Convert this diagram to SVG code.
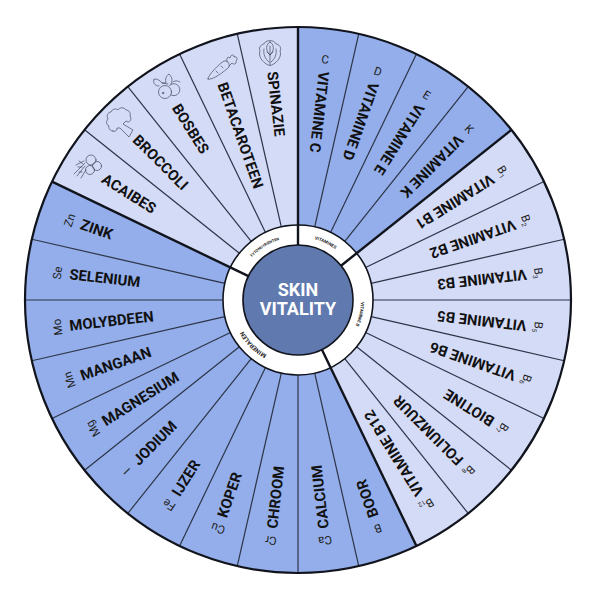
<svg xmlns="http://www.w3.org/2000/svg" width="600" height="600" viewBox="0 0 600 600">
<style>
.b{fill:#93aeea}.l{fill:#d4dbf7}
.t{font-family:"Roboto","Liberation Sans",sans-serif;font-weight:700;font-size:14.8px;fill:#111}
.y{font-family:"Roboto","Liberation Sans",sans-serif;font-weight:400;font-size:11.5px;fill:#222;text-anchor:middle}
.u{font-size:6.5px}
.r{font-family:"Roboto","Liberation Sans",sans-serif;font-weight:700;font-size:4.4px;fill:#222;text-anchor:middle}
.c{font-family:"Roboto","Liberation Sans",sans-serif;font-weight:700;font-size:18px;fill:#fff;text-anchor:middle}
.s{stroke:#2b3347;stroke-width:1.2;fill:none}
.d{stroke:#11141c;stroke-width:2.4;fill:none}
.i{fill:none;stroke:#444b5c;stroke-width:.7;stroke-linejoin:round;stroke-linecap:round}
</style>
<defs>
<path id="w" d="M298 300L298 27A273 273 0 0 1 358.75 33.85Z"/>
<path id="rp" d="M298 237A63 63 0 1 1 297.99 237"/>
</defs>
<rect width="600" height="600" fill="#fff"/>
<g id="vit-c"><use href="#w" class="b" transform="rotate(0 298 300)"/><text class="t" x="68" y="305" transform="rotate(96.429 298 300)">VITAMINE C</text><text class="y" x="298" y="62" transform="rotate(6.429 298 300)">C</text></g>
<g id="vit-d"><use href="#w" class="b" transform="rotate(12.857 298 300)"/><text class="t" x="68" y="305" transform="rotate(109.286 298 300)">VITAMINE D</text><text class="y" x="298" y="62" transform="rotate(19.286 298 300)">D</text></g>
<g id="vit-e"><use href="#w" class="b" transform="rotate(25.714 298 300)"/><text class="t" x="68" y="305" transform="rotate(122.143 298 300)">VITAMINE E</text><text class="y" x="298" y="62" transform="rotate(32.143 298 300)">E</text></g>
<g id="vit-k"><use href="#w" class="b" transform="rotate(38.571 298 300)"/><text class="t" x="68" y="305" transform="rotate(135 298 300)">VITAMINE K</text><text class="y" x="298" y="62" transform="rotate(45 298 300)">K</text></g>
<g id="vit-b1"><use href="#w" class="l" transform="rotate(51.429 298 300)"/><text class="t" x="68" y="305" transform="rotate(147.857 298 300)">VITAMINE B1</text><text class="y" x="298" y="62" transform="rotate(57.857 298 300)">B<tspan class="u" dy="2">1</tspan></text></g>
<g id="vit-b2"><use href="#w" class="l" transform="rotate(64.286 298 300)"/><text class="t" x="68" y="305" transform="rotate(160.714 298 300)">VITAMINE B2</text><text class="y" x="298" y="62" transform="rotate(70.714 298 300)">B<tspan class="u" dy="2">2</tspan></text></g>
<g id="vit-b3"><use href="#w" class="l" transform="rotate(77.143 298 300)"/><text class="t" x="68" y="305" transform="rotate(173.571 298 300)">VITAMINE B3</text><text class="y" x="298" y="62" transform="rotate(83.571 298 300)">B<tspan class="u" dy="2">3</tspan></text></g>
<g id="vit-b5"><use href="#w" class="l" transform="rotate(90 298 300)"/><text class="t" x="68" y="305" transform="rotate(186.429 298 300)">VITAMINE B5</text><text class="y" x="298" y="62" transform="rotate(96.429 298 300)">B<tspan class="u" dy="2">5</tspan></text></g>
<g id="vit-b6"><use href="#w" class="l" transform="rotate(102.857 298 300)"/><text class="t" x="68" y="305" transform="rotate(199.286 298 300)">VITAMINE B6</text><text class="y" x="298" y="62" transform="rotate(109.286 298 300)">B<tspan class="u" dy="2">6</tspan></text></g>
<g id="biotine"><use href="#w" class="l" transform="rotate(115.714 298 300)"/><text class="t" x="68" y="305" transform="rotate(212.143 298 300)">BIOTINE</text><text class="y" x="298" y="62" transform="rotate(122.143 298 300)">B<tspan class="u" dy="2">7</tspan></text></g>
<g id="foliumzuur"><use href="#w" class="l" transform="rotate(128.571 298 300)"/><text class="t" x="68" y="305" transform="rotate(225 298 300)">FOLIUMZUUR</text><text class="y" x="298" y="62" transform="rotate(135 298 300)">B<tspan class="u" dy="2">8</tspan></text></g>
<g id="vit-b12"><use href="#w" class="l" transform="rotate(141.429 298 300)"/><text class="t" x="68" y="305" transform="rotate(237.857 298 300)">VITAMINE B12</text><text class="y" x="298" y="62" transform="rotate(147.857 298 300)">B<tspan class="u" dy="2">12</tspan></text></g>
<g id="boor"><use href="#w" class="b" transform="rotate(154.286 298 300)"/><text class="t" x="68" y="305" transform="rotate(250.714 298 300)">BOOR</text><text class="y" x="298" y="62" transform="rotate(160.714 298 300)">B</text></g>
<g id="calcium"><use href="#w" class="b" transform="rotate(167.143 298 300)"/><text class="t" x="68" y="305" transform="rotate(263.571 298 300)">CALCIUM</text><text class="y" x="298" y="62" transform="rotate(173.571 298 300)">Ca</text></g>
<g id="chroom"><use href="#w" class="b" transform="rotate(180 298 300)"/><text class="t" x="68" y="305" transform="rotate(276.429 298 300)">CHROOM</text><text class="y" x="298" y="62" transform="rotate(186.429 298 300)">Cr</text></g>
<g id="koper"><use href="#w" class="b" transform="rotate(192.857 298 300)"/><text class="t" x="68" y="305" transform="rotate(289.286 298 300)">KOPER</text><text class="y" x="298" y="62" transform="rotate(199.286 298 300)">Cu</text></g>
<g id="ijzer"><use href="#w" class="b" transform="rotate(205.714 298 300)"/><text class="t" x="68" y="305" transform="rotate(302.143 298 300)">IJZER</text><text class="y" x="298" y="62" transform="rotate(212.143 298 300)">Fe</text></g>
<g id="jodium"><use href="#w" class="b" transform="rotate(218.571 298 300)"/><text class="t" x="68" y="305" transform="rotate(315 298 300)">JODIUM</text><text class="y" x="298" y="62" transform="rotate(225 298 300)">I</text></g>
<g id="magnesium"><use href="#w" class="b" transform="rotate(231.429 298 300)"/><text class="t" x="68" y="305" transform="rotate(327.857 298 300)">MAGNESIUM</text><text class="y" x="298" y="62" transform="rotate(237.857 298 300)">Mg</text></g>
<g id="mangaan"><use href="#w" class="b" transform="rotate(244.286 298 300)"/><text class="t" x="68" y="305" transform="rotate(340.714 298 300)">MANGAAN</text><text class="y" x="298" y="62" transform="rotate(250.714 298 300)">Mn</text></g>
<g id="molybdeen"><use href="#w" class="b" transform="rotate(257.143 298 300)"/><text class="t" x="68" y="305" transform="rotate(353.571 298 300)">MOLYBDEEN</text><text class="y" x="298" y="62" transform="rotate(263.571 298 300)">Mo</text></g>
<g id="selenium"><use href="#w" class="b" transform="rotate(270 298 300)"/><text class="t" x="68" y="305" transform="rotate(6.429 298 300)">SELENIUM</text><text class="y" x="298" y="62" transform="rotate(276.429 298 300)">Se</text></g>
<g id="zink"><use href="#w" class="b" transform="rotate(282.857 298 300)"/><text class="t" x="68" y="305" transform="rotate(19.286 298 300)">ZINK</text><text class="y" x="298" y="62" transform="rotate(289.286 298 300)">Zn</text></g>
<g id="acaibes"><use href="#w" class="l" transform="rotate(295.714 298 300)"/><text class="t" x="68" y="305" transform="rotate(32.143 298 300)">ACAIBES</text>
<g class="i"><circle cx="91" cy="160" r="5"/><circle cx="97" cy="166" r="4.500"/><circle cx="90" cy="170" r="4.500"/><path d="M85 163L74 174M85 166L77 176M84 161L76 165M86 170L81 178M83 164L79 161M82 167L78 167M82 172L79 172"/></g></g>
<g id="broccoli"><use href="#w" class="l" transform="rotate(308.571 298 300)"/><text class="t" x="68" y="305" transform="rotate(45 298 300)">BROCCOLI</text>
<path class="i" d="M113 131C110 131 108 128 109 126C106 125 106 121 108 119C106 116 108 112 111 112C112 109 116 108 118 110C120 107 124 107 126 110C129 110 131 113 130 116C132 119 130 122 128 122L126 121L123 124L133 130L129 137L120 128L117 128C117 131 115 132 113 131Z"/></g>
<g id="bosbes"><use href="#w" class="l" transform="rotate(321.429 298 300)"/><text class="t" x="68" y="305" transform="rotate(57.857 298 300)">BOSBES</text>
<g class="i"><circle cx="165" cy="92" r="6.5"/><path d="M169.500 85.500A6 6 0 1 1 171 95"/><circle cx="163" cy="93" r=".8"/><path d="M159 86C154 86 153 82 154 79C157 79 160 80 162 83L166 83C165 79 166 76 169 74C172 77 173 80 171 84M162 83L168 84M173 82C176 80 178 81 180 82"/></g></g>
<g id="betacaroteen"><use href="#w" class="l" transform="rotate(334.286 298 300)"/><text class="t" x="68" y="305" transform="rotate(70.714 298 300)">BETACAROTEEN</text>
<g class="i"><path d="M208 79C207 76 220 63 224 61C228 60 230 64 229 67C225 71 212 81 208 79Z"/><path d="M227 62C226 58 228 56 230 58C231 54 234 54 234 57C237 56 238 59 236 61C237 64 234 65 232 63L229 66M216 71L218 73M221 66L223 68"/></g></g>
<g id="spinazie"><use href="#w" class="l" transform="rotate(347.143 298 300)"/><text class="t" x="68" y="305" transform="rotate(83.571 298 300)">SPINAZIE</text>
<g class="i"><path d="M268 65C262 62 258 56 260 51C258 47 262 44 264 44C265 40 274 39 276 44C279 44 282 48 280 51C282 56 278 62 272 65Z"/><path d="M270 42C266 44 265 50 270 55C275 50 274 44 270 42ZM270 46L270 65M264 49C263 54 265 59 269 62M276 49C277 54 275 59 271 62M267 52L270 55M273 52L270 55"/></g></g>
<g id="connectors">
<g class="s">
<line x1="298" y1="225" x2="298" y2="27" transform="rotate(12.857 298 300)"/><line x1="298" y1="225" x2="298" y2="27" transform="rotate(25.714 298 300)"/><line x1="298" y1="225" x2="298" y2="27" transform="rotate(38.571 298 300)"/>
<line x1="298" y1="225" x2="298" y2="27" transform="rotate(64.286 298 300)"/><line x1="298" y1="225" x2="298" y2="27" transform="rotate(77.143 298 300)"/><line x1="298" y1="225" x2="298" y2="27" transform="rotate(90 298 300)"/><line x1="298" y1="225" x2="298" y2="27" transform="rotate(102.857 298 300)"/><line x1="298" y1="225" x2="298" y2="27" transform="rotate(115.714 298 300)"/><line x1="298" y1="225" x2="298" y2="27" transform="rotate(128.571 298 300)"/><line x1="298" y1="225" x2="298" y2="27" transform="rotate(141.429 298 300)"/>
<line x1="298" y1="225" x2="298" y2="27" transform="rotate(167.143 298 300)"/><line x1="298" y1="225" x2="298" y2="27" transform="rotate(180 298 300)"/><line x1="298" y1="225" x2="298" y2="27" transform="rotate(192.857 298 300)"/><line x1="298" y1="225" x2="298" y2="27" transform="rotate(205.714 298 300)"/><line x1="298" y1="225" x2="298" y2="27" transform="rotate(218.571 298 300)"/><line x1="298" y1="225" x2="298" y2="27" transform="rotate(231.429 298 300)"/><line x1="298" y1="225" x2="298" y2="27" transform="rotate(244.286 298 300)"/><line x1="298" y1="225" x2="298" y2="27" transform="rotate(257.143 298 300)"/><line x1="298" y1="225" x2="298" y2="27" transform="rotate(270 298 300)"/><line x1="298" y1="225" x2="298" y2="27" transform="rotate(282.857 298 300)"/>
<line x1="298" y1="225" x2="298" y2="27" transform="rotate(308.571 298 300)"/><line x1="298" y1="225" x2="298" y2="27" transform="rotate(321.429 298 300)"/><line x1="298" y1="225" x2="298" y2="27" transform="rotate(334.286 298 300)"/><line x1="298" y1="225" x2="298" y2="27" transform="rotate(347.143 298 300)"/>
</g>
</g>
<g id="ring"><circle cx="298" cy="300" r="75" fill="#fff" stroke="#11141c" stroke-width="1.6"/>
<text class="r"><textPath href="#rp" startOffset="7.14%">VITAMINES</textPath></text>
<text class="r"><textPath href="#rp" startOffset="28.57%">VITAMINE B</textPath></text>
<text class="r" style="font-size:6px"><textPath href="#rp" startOffset="62.5%">MINERALEN</textPath></text>
<text class="r" style="font-size:3.8px"><textPath href="#rp" startOffset="91.07%">FYTONUTRIËNTEN</textPath></text>
</g>
<g id="dividers" class="d">
<line x1="298" y1="245" x2="298" y2="27"/><line x1="298" y1="245" x2="298" y2="27" transform="rotate(51.429 298 300)"/><line x1="298" y1="245" x2="298" y2="27" transform="rotate(154.286 298 300)"/><line x1="298" y1="245" x2="298" y2="27" transform="rotate(295.714 298 300)"/>
</g>
<g id="rim"><circle cx="298" cy="300" r="273" fill="none" stroke="#11141c" stroke-width="2.2"/></g>
<g id="center"><circle cx="298" cy="300" r="55" fill="#6079ae" stroke="#11141c" stroke-width="1.6"/><text class="c" x="298" y="296">SKIN</text><text class="c" x="298" y="315">VITALITY</text></g>
</svg>
